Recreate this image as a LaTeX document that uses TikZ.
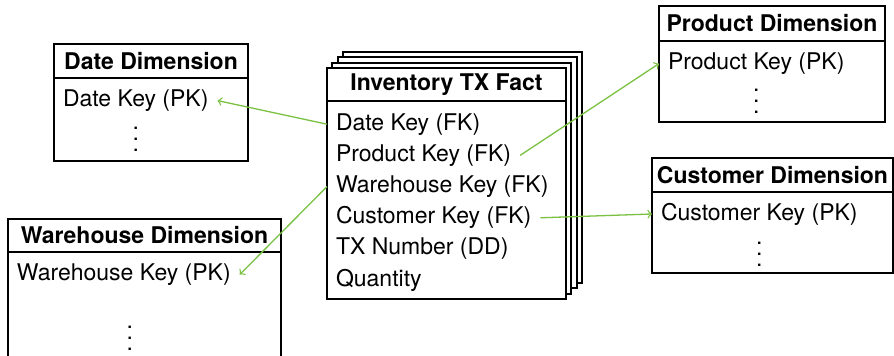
\documentclass[tikz,border=0pt]{standalone}
\usepackage{fontspec}
\setmainfont{TeX Gyre Heros}
\usetikzlibrary{positioning}
\usetikzlibrary{backgrounds}
\definecolor{linkgreen}{RGB}{122,193,66}
\newcommand{\keydots}{\vbox{\baselineskip=5.5pt\lineskiplimit=0pt\hbox{.}\hbox{.}\hbox{.}}}

\begin{document}
\begin{tikzpicture}[%
    x=0.5pt, y=-0.5pt,
    font=\fontsize{11.5}{13.8}\selectfont,
headnode/.style={rectangle, draw, fill=white, line width=0.9pt, outer sep=0pt, inner sep=0pt, anchor=north west, font=\fontsize{11.5}{13.8}\selectfont\bfseries},
bodynode/.style={rectangle, draw, fill=white, line width=0.9pt, outer sep=0pt, inner sep=0pt},
keynode/.style={rectangle, inner xsep=4.5pt, inner ysep=0pt, outer sep=0pt, minimum height=15.6pt},
dotnode/.style={inner sep=0pt},
link/.style={->, draw=linkgreen, line width=0.65pt}
]
\useasboundingbox (0,0) rectangle (894,356);
\clip (0,0) rectangle (894,356);

% Fact Nodes
\node[headnode, minimum width=119.5pt, minimum height=16.5pt] (facthead) at (327,68) {Inventory TX Fact};
\node[bodynode, minimum width=119.5pt, minimum height=99pt] (factbody) [below=0pt of facthead] {};
\node[keynode] (factdate) [below=3.8pt of factbody.north west, anchor=north west] {Date Key (FK)};
\node[keynode] (factprod) [below=0pt of factdate.south west, anchor=north west] {Product Key (FK)};
\node[keynode] (factware) [below=0pt of factprod.south west, anchor=north west] {Warehouse Key (FK)};
\node[keynode] (factcust) [below=0pt of factware.south west, anchor=north west] {Customer Key (FK)};
\node[keynode] (facttx)   [below=0pt of factcust.south west, anchor=north west] {TX Number (DD)};
\node[keynode] (factqty)  [below=0pt of facttx.south west, anchor=north west] {Quantity};

% stacked pages behind the fact table
\begin{scope}[on background layer]
\foreach \s in {3,2,1}
  \draw[fill=white, line width=0.9pt] ([shift={(5.3*\s,-5.3*\s)}]facthead.north west) rectangle ([shift={(5.3*\s,-5.3*\s)}]factbody.south east);
\end{scope}

% Date Dimension
\node[headnode, minimum width=97pt, minimum height=17pt] (datehead) at (54,44) {Date Dimension};
\node[bodynode, minimum width=97pt, minimum height=41.5pt] (datebody) [below=0pt of datehead] {};
\node[keynode] (datekey) [below=3.5pt of datebody.north west, anchor=north west] {Date Key (PK)};
\node[dotnode] (datedots) [below=5.5pt of datekey] {\keydots};

% Warehouse Dimension
\node[headnode, minimum width=136.5pt, minimum height=16.5pt] (warehead) at (8,219) {Warehouse Dimension};
\node[bodynode, minimum width=136.5pt, minimum height=56pt] (warebody) [below=0pt of warehead] {};
\node[keynode] (warekey) [below=3.5pt of warebody.north west, anchor=north west] {Warehouse Key (PK)};
\node[dotnode] (waredots) [below=18pt of warekey, xshift=3pt] {\keydots};

% Product Dimension
\node[headnode, minimum width=113pt, minimum height=17.5pt] (prodhead) at (659,6) {Product Dimension};
\node[bodynode, minimum width=113pt, minimum height=40.5pt] (prodbody) [below=0pt of prodhead] {};
\node[keynode] (prodkey) [below=3.5pt of prodbody.north west, anchor=north west] {Product Key (PK)};
\node[dotnode] (proddots) [below=5pt of prodkey] {\keydots};

% Customer Dimension
\node[headnode, minimum width=120.5pt, minimum height=17pt] (custhead) at (652,158) {Customer Dimension};
\node[bodynode, minimum width=120.5pt, minimum height=40.5pt] (custbody) [below=0pt of custhead] {};
\node[keynode] (custkey) [below=3.2pt of custbody.north west, anchor=north west] {Customer Key (PK)};
\node[dotnode] (custdots) [below=6pt of custkey] {\keydots};

% Key Lines
\draw[link] (factdate.west) -- (datekey.east);
\draw[link] (factprod.east) -- (prodkey.west);
\draw[link] (factware.west) -- (warekey.east);
\draw[link] (factcust.east) -- (custkey.west);

\end{tikzpicture}
\end{document}
